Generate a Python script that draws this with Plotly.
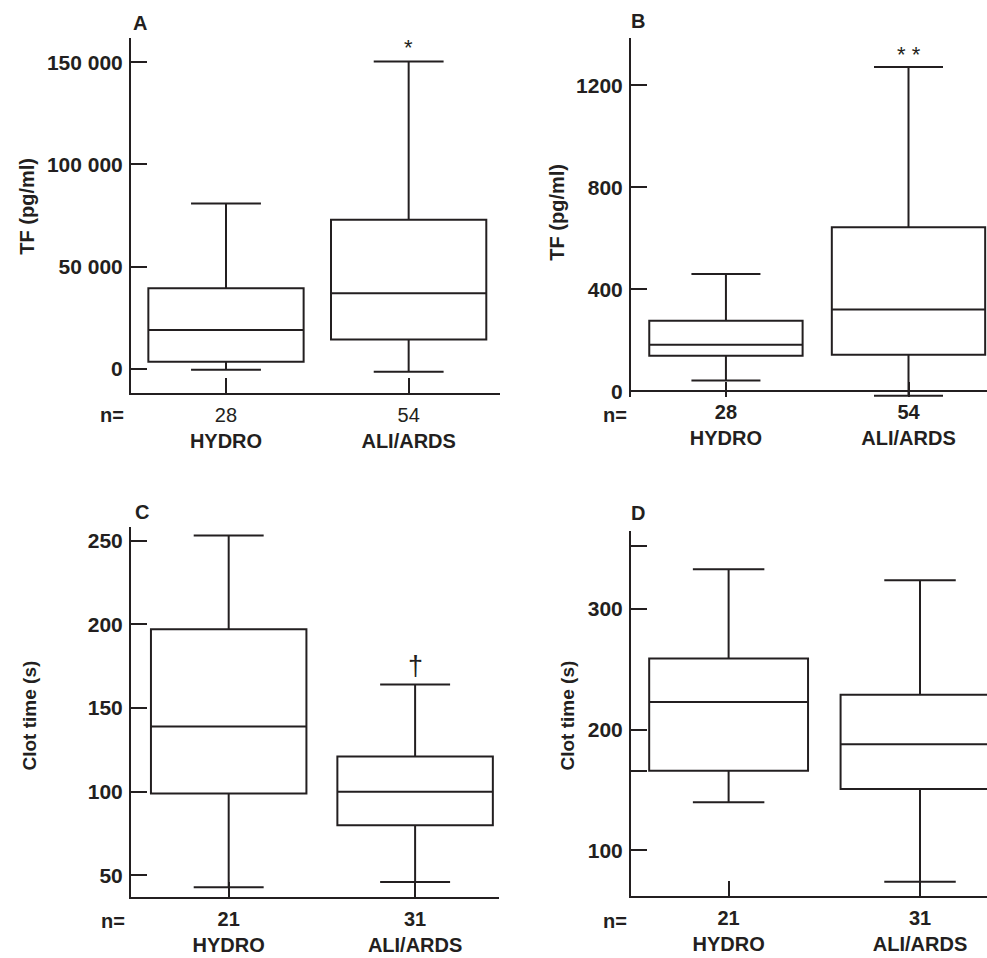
import plotly.graph_objects as go

W, H = 987, 958
FONT = "Liberation Sans, Arial, sans-serif"
INK = "#231f20"

categories = ["HYDRO", "ALI/ARDS"]

# Panel A: TF (pg/ml)
a_n = [28, 54]
a_lower = [-500, -1500]
a_q1 = [3400, 14300]
a_median = [18900, 36900]
a_q3 = [39300, 72900]
a_upper = [80800, 150400]
a_ticks = [0, 50000, 100000, 150000]
a_ticklabels = ["0", "50 000", "100 000", "150 000"]

# Panel B: TF (pg/ml)
b_n = [28, 54]
b_lower = [43, -17]
b_q1 = [140, 144]
b_median = [183, 321]
b_q3 = [277, 644]
b_upper = [461, 1272]
b_ticks = [0, 400, 800, 1200]
b_ticklabels = ["0", "400", "800", "1200"]

# Panel C: Clot time (s)
c_n = [21, 31]
c_lower = [43, 46]
c_q1 = [99, 80]
c_median = [139, 100]
c_q3 = [197, 121]
c_upper = [253, 164]
c_ticks = [50, 100, 150, 200, 250]
c_ticklabels = ["50", "100", "150", "200", "250"]

# Panel D: Clot time (s)
d_n = [21, 31]
d_lower = [140, 74]
d_q1 = [166, 151]
d_median = [223, 188]
d_q3 = [259, 229]
d_upper = [333, 324]
d_ticks = [100, 166, 200, 300, 352]
d_ticklabels = ["100", "", "200", "300", ""]

marks = {"A": "*", "B": "* *", "C": "\u2020", "D": None}


def px_x(x):
    return x / W


def px_y(y):
    return 1 - y / H


panels = [
    dict(key="A", n=a_n, lo=a_lower, q1=a_q1, med=a_median, q3=a_q3, hi=a_upper,
         ticks=a_ticks, labels=a_ticklabels, title="TF (pg/ml)",
         dom=(131, 500, 38, 395), yr=[-11700, 162000], xr=[-0.52, 1.5], bw=0.85,
         nbold=False, zero=False, mark_y=157000, mark_size=22, title_xy=(27, 208),
         letter_xy=(140, 23), neq_xy=(112, 418), tsize=20, xstand=3),
    dict(key="B", n=b_n, lo=b_lower, q1=b_q1, med=b_median, q3=b_q3, hi=b_upper,
         ticks=b_ticks, labels=b_ticklabels, title="TF (pg/ml)",
         dom=(631, 987, 38, 399.6), yr=[-22, 1387], xr=[-0.52, 1.43], bw=0.84,
         nbold=True, zero=True, mark_y=1322, mark_size=22, title_xy=(557, 214),
         letter_xy=(638, 21), neq_xy=(615, 418), tsize=20, xstand=1),
    dict(key="C", n=c_n, lo=c_lower, q1=c_q1, med=c_median, q3=c_q3, hi=c_upper,
         ticks=c_ticks, labels=c_ticklabels, title="Clot time (s)",
         dom=(131, 499, 530, 903), yr=[36.9, 258.3], xr=[-0.524, 1.45], bw=0.834,
         nbold=True, zero=False, mark_y=175, mark_size=27, title_xy=(29, 720),
         letter_xy=(142, 515), neq_xy=(113, 927), tsize=19, xstand=3),
    dict(key="D", n=d_n, lo=d_lower, q1=d_q1, med=d_median, q3=d_q3, hi=d_upper,
         ticks=d_ticks, labels=d_ticklabels, title="Clot time (s)",
         dom=(631, 987, 534, 902), yr=[62, 365], xr=[-0.51, 1.35], bw=0.83,
         nbold=True, zero=False, mark_y=None, mark_size=22, title_xy=(567, 720),
         letter_xy=(638, 516), neq_xy=(615, 927), tsize=19, xstand=3),
]

fig = go.Figure()
annotations = []
layout = {}

for i, p in enumerate(panels, start=1):
    xa = "x" if i == 1 else f"x{i}"
    ya = "y" if i == 1 else f"y{i}"
    fig.add_trace(go.Box(
        x=categories, q1=p["q1"], median=p["med"], q3=p["q3"],
        lowerfence=p["lo"], upperfence=p["hi"],
        width=p["bw"], whiskerwidth=0.45, fillcolor="white",
        line=dict(color=INK, width=2), boxpoints=False,
        xaxis=xa, yaxis=ya, showlegend=False, hoverinfo="skip",
    ))
    x0, x1, y0, y1 = p["dom"]
    if p["nbold"]:
        tt = [f"<b>{n}</b><br><b>{c}</b>" for n, c in zip(p["n"], categories)]
    else:
        tt = [f"{n}<br><b>{c}</b>" for n, c in zip(p["n"], categories)]
    layout["xaxis" if i == 1 else f"xaxis{i}"] = dict(
        domain=[px_x(x0), min(1.0, px_x(x1))], anchor=ya,
        range=p["xr"], type="category",
        tickvals=categories, ticktext=tt,
        ticks="inside", ticklen=15, tickwidth=2, tickcolor=INK,
        showline=not p["zero"], linecolor=INK, linewidth=2,
        showgrid=False, zeroline=False,
        tickfont=dict(family=FONT, size=20, color=INK),
        ticklabelstandoff=p["xstand"],
        fixedrange=True,
    )
    layout["yaxis" if i == 1 else f"yaxis{i}"] = dict(
        domain=[px_y(y1), px_y(y0)], anchor=xa,
        range=p["yr"], tickmode="array", tickvals=p["ticks"], ticktext=p["labels"],
        ticks="inside", ticklen=16, tickwidth=2, tickcolor=INK,
        showline=True, linecolor=INK, linewidth=2,
        showgrid=False, zeroline=p["zero"], zerolinecolor=INK, zerolinewidth=2,
        tickfont=dict(family=FONT, size=21, color=INK, weight="bold"),
        ticklabelstandoff=2,
        fixedrange=True,
    )
    # axis title
    tx, ty = p["title_xy"]
    annotations.append(dict(
        text=f"<b>{p['title']}</b>", x=px_x(tx), y=px_y(ty), xref="paper", yref="paper",
        textangle=-90, showarrow=False, xanchor="center", yanchor="middle",
        font=dict(family=FONT, size=p["tsize"], color=INK)))
    # panel letter
    lx, ly = p["letter_xy"]
    annotations.append(dict(
        text=f"<b>{p['key']}</b>", x=px_x(lx), y=px_y(ly), xref="paper", yref="paper",
        showarrow=False, xanchor="center", yanchor="middle",
        font=dict(family=FONT, size=20, color=INK)))
    # n=
    nx, ny = p["neq_xy"]
    annotations.append(dict(
        text="<b>n=</b>", x=px_x(nx), y=px_y(ny), xref="paper", yref="paper",
        showarrow=False, xanchor="center", yanchor="middle",
        font=dict(family=FONT, size=20, color=INK)))
    # significance mark
    m = marks[p["key"]]
    if m and p["mark_y"] is not None:
        annotations.append(dict(
            text=m, x=categories[1], y=p["mark_y"], xref=xa, yref=ya,
            showarrow=False, xanchor="center", yanchor="middle",
            font=dict(family=FONT, size=p["mark_size"], color=INK)))

fig.update_layout(
    width=W, height=H, margin=dict(l=0, r=0, t=0, b=0),
    paper_bgcolor="white", plot_bgcolor="white",
    annotations=annotations, showlegend=False,
    **layout,
)

fig.write_html(
    "out.html",
    config={"displayModeBar": False},
    post_script="document.body.style.margin='0';document.body.style.overflow='hidden';",
)
